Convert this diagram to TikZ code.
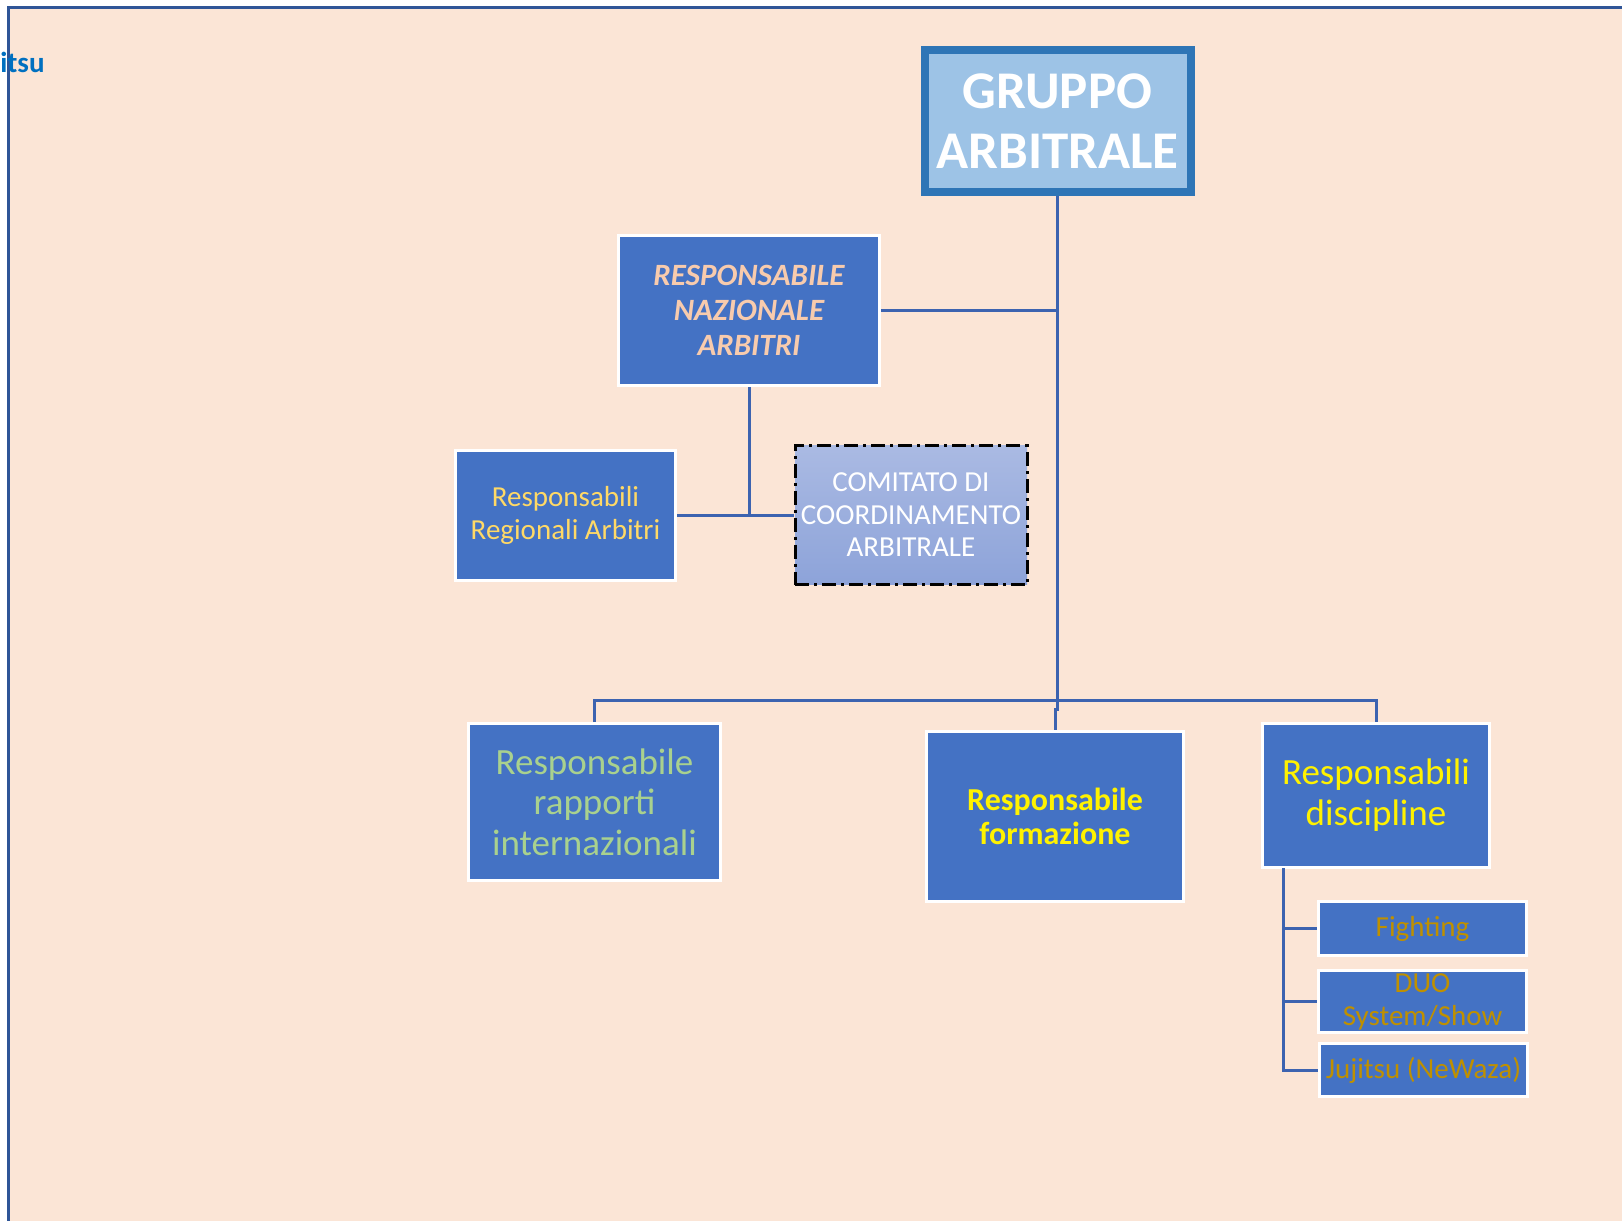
\documentclass[tikz,border=0pt]{standalone}
\usepackage{fontspec}
\setmainfont{Carlito}
\definecolor{peach}{HTML}{FBE5D6}
\definecolor{framecol}{HTML}{2F5597}
\definecolor{boxblue}{HTML}{4472C4}
\definecolor{linecol}{HTML}{3C63B0}
\definecolor{itsucol}{HTML}{0070C0}
\definecolor{gborder}{HTML}{2E75B6}
\definecolor{gfill}{HTML}{9DC3E6}
\definecolor{rnatext}{HTML}{F8CBAD}
\definecolor{rratext}{HTML}{FFD966}
\definecolor{greentext}{HTML}{A9D18E}
\definecolor{goldtext}{HTML}{BF9000}
\definecolor{comtop}{HTML}{AABAE3}
\definecolor{combot}{HTML}{8DA3D9}
\begin{document}
\begin{tikzpicture}[x=0.5pt,y=-0.5pt,
  box/.style={draw=white, line width=1.5pt, fill=boxblue, inner sep=0pt, align=center},
  conn/.style={draw=linecol, line width=1.5pt}]
\useasboundingbox (0,0) rectangle (1622,1221);
\fill[white] (0,0) rectangle (1622,1221);
\fill[peach] (8,7) rectangle (1622,1221);
\draw[line width=1.25pt, framecol] (1622,7.3) -- (8.3,7.3) -- (8.3,1221);
\node[anchor=base east, text=itsucol, font=\fontsize{14.5}{16}\selectfont\bfseries, inner sep=0pt] (itsu) at (45,72) {itsu};

% boxes
\node[draw=gborder, line width=4pt, fill=gfill, inner sep=0pt, align=center,
  minimum width=133pt, minimum height=71pt, text=white,
  font=\fontsize{26.5}{30}\selectfont\bfseries] (gruppo) at (1057.5,121) {GRUPPO\\ARBITRALE};

\node[box, minimum width=130.5pt, minimum height=75pt, text=rnatext,
  font=\fontsize{15.5}{17.5}\selectfont\bfseries\itshape] (rna) at (749,310.5) {RESPONSABILE\\NAZIONALE\\ARBITRI};

\node[box, minimum width=110pt, minimum height=65pt, text=rratext,
  font=\fontsize{14.5}{16.5}\selectfont] (rra) at (565.5,515) {Responsabili\\Regionali Arbitri};

\node[draw=black, line width=1.5pt, dash pattern=on 7pt off 2.5pt on 1.5pt off 2.5pt,
  top color=comtop, bottom color=combot, inner sep=0pt, align=center,
  minimum width=116pt, minimum height=69.5pt, text=white,
  font=\fontsize{14.5}{16.25}\selectfont] (comitato) at (911,515) {COMITATO DI\\COORDINAMENTO\\ARBITRALE};

\node[box, minimum width=126pt, minimum height=78.5pt, text=greentext,
  font=\fontsize{18.5}{20.25}\selectfont] (rapporti) at (594.5,802) {Responsabile\\rapporti\\internazionali};

\node[box, minimum width=128.5pt, minimum height=85pt, text=yellow,
  font=\fontsize{16}{17}\selectfont\bfseries] (formazione) at (1055,816.5) {Responsabile\\formazione};

\node[box, minimum width=113.5pt, minimum height=72pt, text=yellow,
  font=\fontsize{18.5}{20.5}\selectfont] (discipline) at (1376,795.5) {Responsabili\\discipline};

\node[box, minimum width=104pt, minimum height=27pt, text=goldtext,
  font=\fontsize{14.5}{16.5}\selectfont] (fighting) at (1422.5,928.5) {Fighting};
\node[box, minimum width=104pt, minimum height=31pt, text=goldtext,
  font=\fontsize{14.5}{16.5}\selectfont] (duo) at (1422.5,1001.5) {DUO\\System/Show};
\node[box, minimum width=104pt, minimum height=26.5pt, text=goldtext,
  font=\fontsize{14.5}{16.5}\selectfont] (jujitsu) at (1423.5,1070) {Jujitsu (NeWaza)};

% connectors
\coordinate (jog) at (1057.5,709);
\coordinate (bus) at (1057.5,700);
\coordinate (dtop) at (1283,868);
\draw[conn] (gruppo.south) -- (jog) -- ++(-2.5,0) -- (formazione.north);
\draw[conn] (rna.east) -- (rna.east -| gruppo.south);
\draw[conn] (rna.south) -- (rna.south |- rra.east);
\draw[conn] (rra.east) -- (comitato.west);
\draw[conn] (rapporti.north) -- (rapporti.north |- bus) -- (bus -| discipline.north) -- (discipline.north);
\draw[conn] (dtop) |- (jujitsu.west);
\draw[conn] (dtop |- fighting.west) -- (fighting.west);
\draw[conn] (dtop |- duo.west) -- (duo.west);
\end{tikzpicture}
\end{document}
